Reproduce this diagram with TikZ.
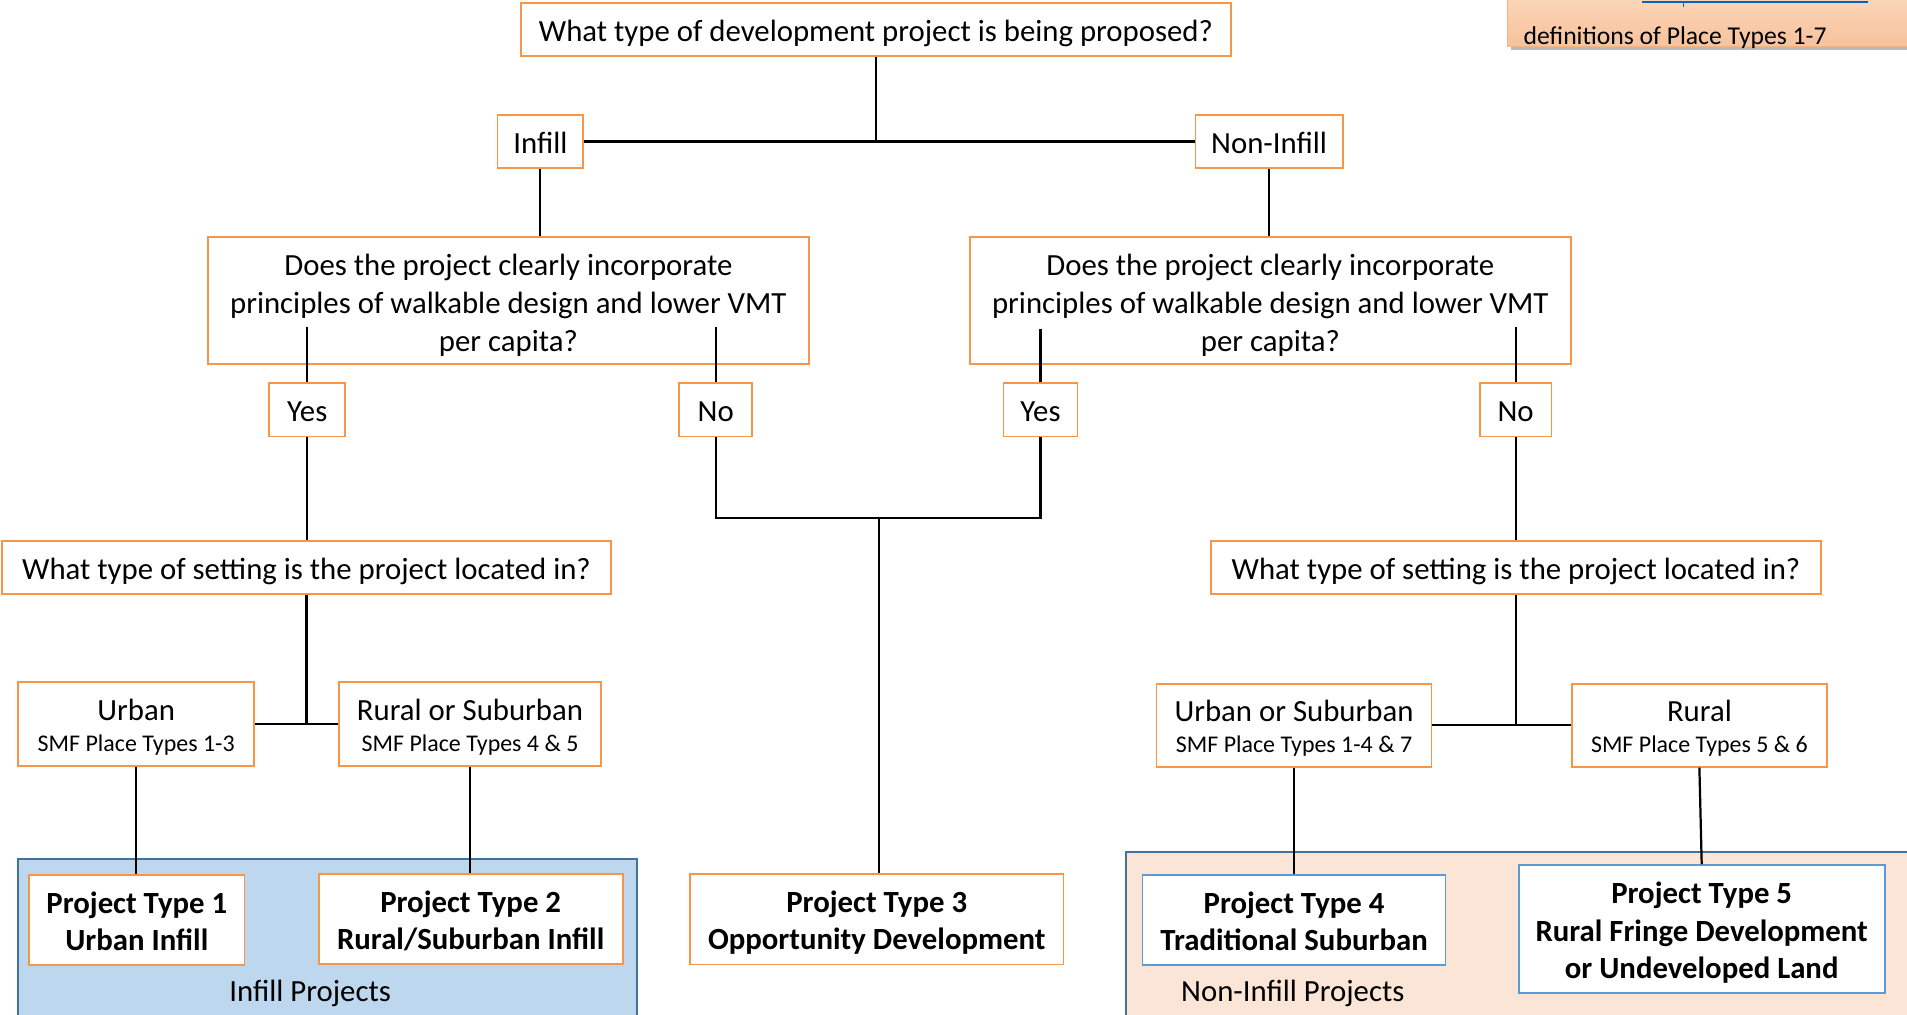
\documentclass[tikz,border=0pt]{standalone}
\usepackage{fontspec}
\setmainfont{Carlito}
\usetikzlibrary{shadows,calc}
\definecolor{orng}{HTML}{F79646}
\definecolor{infillfill}{HTML}{BDD7EE}
\definecolor{nonfill}{HTML}{FBE5D6}
\definecolor{contborder}{HTML}{41719C}
\definecolor{ltblue}{HTML}{5B9BD5}
\definecolor{peachA}{HTML}{FCD9BE}
\definecolor{peachB}{HTML}{F8C29C}
\definecolor{linkblue}{HTML}{0563C1}
\newcommand{\tstrut}{\rule{0pt}{19pt}}
\newcommand{\qstrut}{\rule{0pt}{20.2pt}}
\newcommand{\bstrut}{\rule[-5pt]{0pt}{5pt}}
\newcommand{\smf}[1]{{\fontsize{14}{17}\selectfont #1\bstrut}}
\begin{document}
\begin{tikzpicture}[x=0.025cm,y=-0.025cm,
  sz/.style 2 args={minimum width=#1*0.025cm, minimum height=#2*0.025cm},
  base/.style={draw=orng, line width=1pt, fill=white, inner sep=0pt, align=center,
    font=\fontsize{18}{22}\selectfont},
  boldbox/.style={base, font=\fontsize{18}{22}\selectfont\bfseries},
  bluebox/.style={boldbox, draw=ltblue},
  container/.style={draw=contborder, line width=1.2pt},
  conn/.style={draw=black, line width=1.3pt},
  lbl/.style={inner sep=0pt, font=\fontsize{18}{22}\selectfont},
]
\useasboundingbox (0,0) rectangle (1568,834);
\clip (0,0) rectangle (1568,834);
\fill[white] (0,0) rectangle (1568,834);

% containers
\path[container, fill=infillfill] (15,706) rectangle (524,840);
\path[container, fill=nonfill] (926,700.6) rectangle (1580,840);
\node[lbl] (infilllbl) at (255,816.5) {Infill Projects};
\node[lbl] (nonlbl) at (1063,816.5) {Non-Infill Projects};

% top-right link box
\path[drop shadow={shadow xshift=2pt, shadow yshift=-2pt, opacity=0.45, fill=black!60},
  top color=peachA, bottom color=peachB, draw=peachB!80!brown] (1239.4,-10) rectangle (1580,38);
\node[inner sep=0pt, anchor=west, font=\fontsize{15}{18}\selectfont] (deftext) at (1252.5,31) {definitions of Place Types 1-7};
\coordinate (linkA) at (1350,1.5);
\coordinate (linkB) at (1536,1.5);
\coordinate (tickA) at (1384,1.5);
\coordinate (tickB) at (1384,5.5);
\draw[linkblue, line width=1pt] (linkA) -- (linkB);
\draw[linkblue, line width=0.8pt] (tickA) -- (tickB);

% nodes
\node[base, sz={583.6}{43.8}] (topq) at (720.2,24.1) {\tstrut What type of development project is being proposed?\bstrut};
\node[base, sz={70.7}{43.4}] (infill) at (444.3,116.3) {\tstrut Infill\bstrut};
\node[base, sz={121}{43.4}] (noninfill) at (1043.5,116.3) {\tstrut Non-Infill\bstrut};
\node[base, sz={494}{104.8}] (q1) at (418,247) {\qstrut Does the project clearly incorporate\\principles of walkable design and lower VMT\\per capita?\bstrut};
\node[base, sz={494}{104.8}] (q2) at (1044.5,247) {\qstrut Does the project clearly incorporate\\principles of walkable design and lower VMT\\per capita?\bstrut};
\node[base, sz={62.7}{43.8}] (yes1) at (252.6,337.1) {\tstrut Yes\bstrut};
\node[base, sz={60}{43.8}] (no1) at (588.5,337.1) {\tstrut No\bstrut};
\node[base, sz={61}{43.8}] (yes2) at (855.5,337.1) {\tstrut Yes\bstrut};
\node[base, sz={59}{43.8}] (no2) at (1246.2,337.1) {\tstrut No\bstrut};
\node[base, sz={500.7}{43.6}] (set1) at (252,466.6) {\tstrut What type of setting is the project located in?\bstrut};
\node[base, sz={501}{43.6}] (set2) at (1246.5,466.6) {\tstrut What type of setting is the project located in?\bstrut};
\node[base, sz={194}{68.5}] (urban) at (112,595.3) {\tstrut Urban\\[-4pt]\smf{SMF Place Types 1-3}};
\node[base, sz={215}{68.5}] (rurs) at (386.5,595.3) {\tstrut Rural or Suburban\\[-4pt]\smf{SMF Place Types 4 \& 5}};
\node[base, sz={226}{68}] (urbsub) at (1064,596.4) {\tstrut Urban or Suburban\\[-4pt]\smf{SMF Place Types 1-4 \& 7}};
\node[base, sz={209.4}{68}] (rural) at (1397.3,596.4) {\tstrut Rural\\[-4pt]\smf{SMF Place Types 5 \& 6}};
\node[boldbox, sz={177}{74}] (pt1) at (112.5,756.5) {\tstrut Project Type 1\\Urban Infill\bstrut};
\node[boldbox, sz={250}{74}] (pt2) at (387,755.5) {\tstrut Project Type 2\\Rural/Suburban Infill\bstrut};
\node[boldbox, sz={307}{74.3}] (pt3) at (720.9,755.8) {\tstrut Project Type 3\\Opportunity Development\bstrut};
\node[bluebox, sz={249}{74}] (pt4) at (1064,756.5) {\tstrut Project Type 4\\Traditional Suburban\bstrut};
\node[bluebox, sz={301}{105.4}] (pt5) at (1399.2,764) {\tstrut Project Type 5\\Rural Fringe Development\\or Undeveloped Land\bstrut};

% junction coordinates
\coordinate (jtop) at (topq.south |- infill.east);
\coordinate (y1t) at (252.6,268.6);
\coordinate (n1t) at (588.5,268.6);
\coordinate (y2t) at (855.5,270.5);
\coordinate (n2t) at (1246.2,268.6);
\coordinate (jmid) at (722.7,426.2);
\coordinate (jl) at (set1.south |- urban.east);
\coordinate (jr) at (set2.south |- urbsub.east);

% connectors
\draw[conn] (topq.south) -- (jtop);
\draw[conn] (infill.east) -- (noninfill.west);
\draw[conn] (infill.south) -- (infill.south |- q1.north);
\draw[conn] (noninfill.south) -- (noninfill.south |- q2.north);
\draw[conn] (y1t) -- (yes1.north);
\draw[conn] (n1t) -- (no1.north);
\draw[conn] (y2t) -- (yes2.north);
\draw[conn] (n2t) -- (no2.north);
\draw[conn] (yes1.south) -- (yes1.south |- set1.north);
\draw[conn] (no1.south) |- (jmid) -| (yes2.south);
\draw[conn] (jmid) -- (jmid |- pt3.north);
\draw[conn] (no2.south) -- (no2.south |- set2.north);
\draw[conn] (set1.south) -- (jl);
\draw[conn] (urban.east) -- (rurs.west);
\draw[conn] (set2.south) -- (jr);
\draw[conn] (urbsub.east) -- (rural.west);
\draw[conn] (urban.south) -- (urban.south |- pt1.north);
\draw[conn] (rurs.south) -- (rurs.south |- pt2.north);
\draw[conn] (urbsub.south) -- (urbsub.south |- pt4.north);
\draw[conn] (rural.south) -- ([xshift=1.9*0.025cm]rural.south |- pt5.north);
\end{tikzpicture}
\end{document}
